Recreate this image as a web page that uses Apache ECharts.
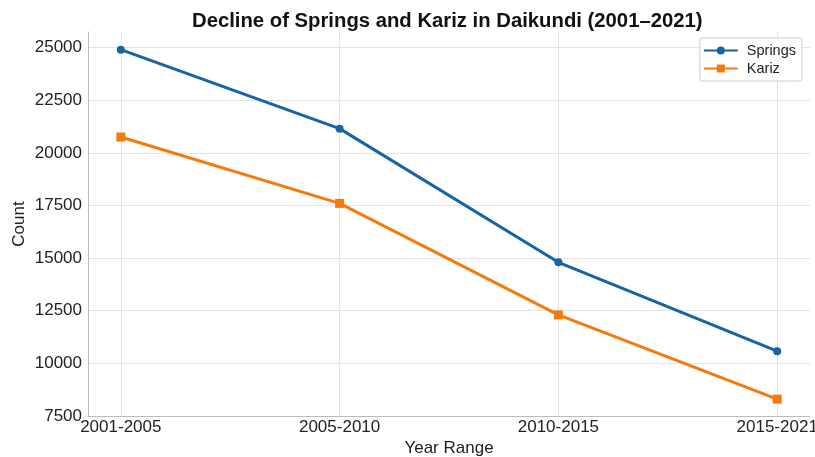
<!DOCTYPE html>
<html>
<head>
<meta charset="utf-8">
<script src="https://cdn.jsdelivr.net/npm/echarts@6/dist/echarts.min.js"></script>
<style>
  html, body { margin: 0; padding: 0; background: #fff; }
  #main { width: 815px; height: 457px; }
</style>
</head>
<body>
<div id="main"></div>
<script>
var categories = ['2001-2005', '2005-2010', '2010-2015', '2015-2021'];
var springs = [24900, 21150, 14800, 10580];
var kariz = [20750, 17600, 12300, 8300];
var yTicks = [7500, 10000, 12500, 15000, 17500, 20000, 22500, 25000];

var chart = echarts.init(document.getElementById('main'));

function pairs(arr) {
  return arr.map(function (v, i) { return [i, v]; });
}

var option = {
  backgroundColor: '#ffffff',
  animation: false,
  textStyle: { fontFamily: 'Liberation Sans' },
  title: {
    text: 'Decline of Springs and Kariz in Daikundi (2001\u20132021)',
    left: 187,
    top: 6,
    textStyle: { fontSize: 20.3, fontWeight: 'bold', color: '#111', fontFamily: 'Liberation Sans' }
  },
  legend: {
    right: 13,
    top: 38,
    orient: 'vertical',
    itemGap: 3,
    itemWidth: 34,
    itemHeight: 10,
    padding: [5, 6, 5, 3],
    borderColor: '#cccccc',
    borderWidth: 1,
    borderRadius: 3,
    backgroundColor: '#fff',
    textStyle: { fontSize: 14.5, color: '#222', padding: [0, 0, 0, 4] },
    data: ['Springs', 'Kariz']
  },
  grid: { left: 88, right: 5, top: 32, bottom: 41, outerBoundsMode: 'none', containLabel: false },
  xAxis: {
    type: 'value',
    min: -0.15,
    max: 3.15,
    name: 'Year Range',
    nameLocation: 'middle',
    nameGap: 24,
    nameMoveOverlap: false,
    nameTextStyle: { fontSize: 17, color: '#222' },
    axisLine: { show: true, onZero: false, lineStyle: { color: '#bbbbbb', width: 1 } },
    axisTick: { show: false, customValues: [0, 1, 2, 3] },
    axisLabel: {
      customValues: [0, 1, 2, 3],
      fontSize: 17,
      color: '#222',
      margin: 3,
      formatter: function (v) { return categories[Math.round(v)]; }
    },
    splitLine: { show: true, lineStyle: { color: '#e3e3e3', width: 1 } }
  },
  yAxis: {
    type: 'value',
    min: 7500,
    max: 25740,
    name: 'Count',
    nameLocation: 'middle',
    nameGap: 60,
    nameMoveOverlap: false,
    nameTextStyle: { fontSize: 17, color: '#222' },
    axisLine: { show: true, onZero: false, lineStyle: { color: '#bbbbbb', width: 1 } },
    axisTick: { show: false, customValues: yTicks },
    axisLabel: {
      customValues: yTicks,
      fontSize: 17,
      color: '#222',
      margin: 6,
      formatter: function (v) { return String(v); }
    },
    splitLine: { show: true, lineStyle: { color: '#e3e3e3', width: 1 } }
  },
  series: [
    {
      name: 'Springs',
      type: 'line',
      data: pairs(springs),
      symbol: 'circle',
      symbolSize: 8,
      lineStyle: { width: 3, color: '#1663a6' },
      itemStyle: { color: '#1663a6' }
    },
    {
      name: 'Kariz',
      type: 'line',
      data: pairs(kariz),
      symbol: 'rect',
      symbolSize: 9,
      lineStyle: { width: 3, color: '#f57a0c' },
      itemStyle: { color: '#f57a0c' }
    }
  ]
};

chart.setOption(option);
</script>
</body>
</html>
